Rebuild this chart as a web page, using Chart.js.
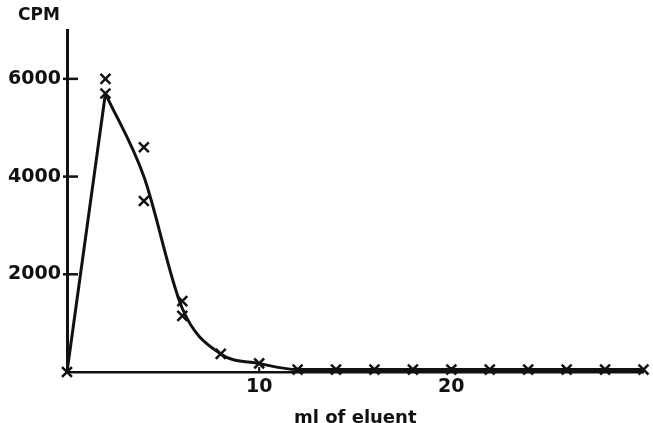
<!DOCTYPE html>
<html>
<head>
<meta charset="utf-8">
<script src="https://cdn.jsdelivr.net/npm/chart.js@4/dist/chart.umd.min.js"></script>
<style>
html,body{margin:0;padding:0;background:#fff;}
#wrap{width:653px;height:423px;}
</style>
</head>
<body>
<div id="wrap"><canvas id="c"></canvas></div>
<script>
// elution curve, ml of eluent vs CPM
const lineMl=[0,2,4,6,8,10,12,14,16,18,20,22,24,26,28,30];
const lineCpm=[0,5700,4000,1300,370,175,50,50,50,50,50,50,50,50,50,50];

const markMl=[0,2,2,4,4,6,6,8,10,12,14,16,18,20,22,24,26,28,30];
const markCpm=[0,6000,5700,4600,3500,1450,1150,370,175,50,50,50,50,50,50,50,50,50,50];

const yTicks=[2000,4000,6000];
const xTicks=[10,20];

const ink="#111";
const font="'DejaVu Sans'";

function pts(xs,ys){
return xs.map((x,i)=>({x:x,y:ys[i]}));
}

let curve=pts(lineMl,lineCpm);

// short tick marks across the axes + the CPM label
const axisMarks={
id:"axisMarks",
afterDraw(chart){
let ctx=chart.ctx;
let xs=chart.scales.x, ys=chart.scales.y;
let a=chart.chartArea;
ctx.save();
ctx.strokeStyle=ink;
ctx.lineWidth=2.5;
yTicks.forEach(v=>{
let y=ys.getPixelForValue(v);
ctx.beginPath();
ctx.moveTo(a.left-4,y);
ctx.lineTo(a.left+11,y);
ctx.stroke();
});
ctx.lineWidth=2;
xTicks.forEach(v=>{
let x=xs.getPixelForValue(v);
ctx.beginPath();
ctx.moveTo(x,a.bottom);
ctx.lineTo(x,a.bottom-5);
ctx.stroke();
});
ctx.fillStyle=ink;
ctx.font="bold 17px "+font;
ctx.textAlign="left";
ctx.textBaseline="alphabetic";
ctx.fillText("CPM",18,20);
ctx.restore();
}
};

new Chart(document.getElementById("c"),{
type:"scatter",
data:{
datasets:[
{
data:curve.slice(0,2),
showLine:true,
tension:0,
borderColor:ink,
borderWidth:3,
pointRadius:0
},
{
data:curve.slice(1),
showLine:true,
cubicInterpolationMode:"monotone",
borderColor:ink,
borderWidth:3,
pointRadius:0
},
{
data:pts(markMl,markCpm),
showLine:false,
pointStyle:"crossRot",
pointRadius:7,
borderColor:ink,
borderWidth:2.5,
clip:false
}
]
},
plugins:[axisMarks],
options:{
responsive:true,
maintainAspectRatio:false,
animation:false,
layout:{padding:{top:30,right:1,left:0,bottom:0}},
plugins:{legend:{display:false},tooltip:{enabled:false}},
scales:{
x:{
type:"linear",
min:0,max:30,
afterBuildTicks:s=>{s.ticks=xTicks.map(v=>({value:v}));},
afterFit:s=>{s.height=51;},
grid:{display:false,drawTicks:false},
border:{display:true,color:ink,width:2.5},
ticks:{color:ink,padding:4,callback:v=>String(v),font:{family:font,size:19,weight:"bold"}},
title:{display:true,text:"ml of eluent",color:ink,padding:{top:9,bottom:-6},font:{family:font,size:18,weight:"bold"}}
},
y:{
min:0,max:7000,
afterBuildTicks:s=>{s.ticks=yTicks.map(v=>({value:v}));},
afterFit:s=>{s.width=67;},
grid:{display:false,drawTicks:false},
border:{display:true,color:ink,width:3},
ticks:{color:ink,padding:6,callback:v=>String(v),font:{family:font,size:19,weight:"bold"}}
}
}
}
});
</script>
</body>
</html>
